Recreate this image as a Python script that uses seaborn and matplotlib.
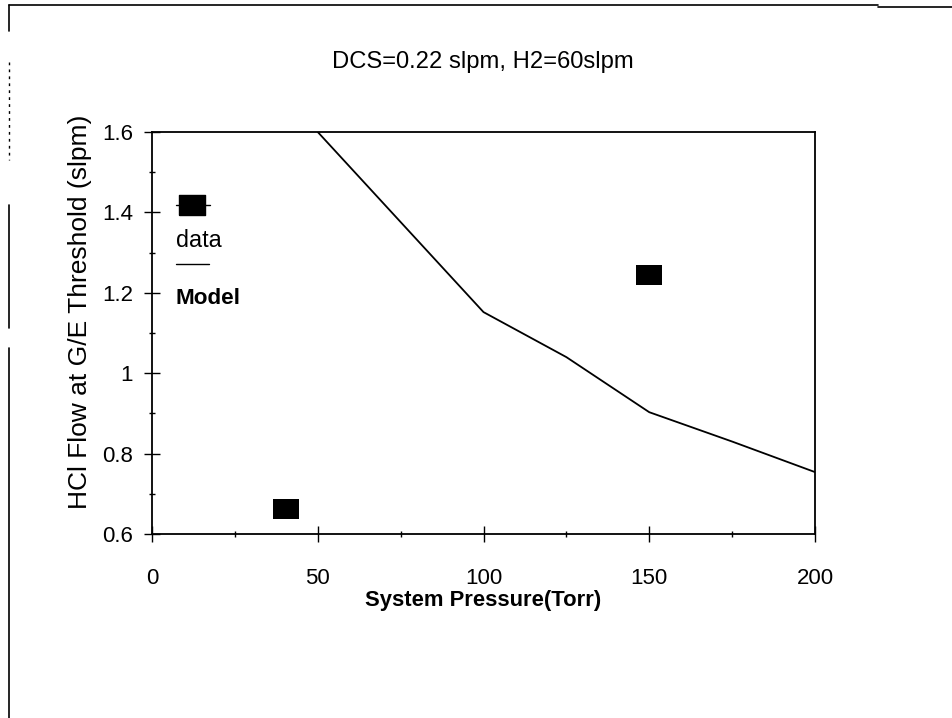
import matplotlib
matplotlib.use("Agg")
import matplotlib.pyplot as plt
import matplotlib.lines as mlines
import seaborn as sns
import pandas as pd
from matplotlib.ticker import FormatStrFormatter, MultipleLocator

# ---- data ----
data_pressure = [40.5, 150]
data_flow = [0.662, 1.244]
model_pressure = [50, 100, 125, 150, 175, 200]
model_flow = [1.6, 1.152, 1.04, 0.903, 0.83, 0.754]
x_ticks = [0, 50, 100, 150, 200]
y_ticks = [0.6, 0.8, 1.0, 1.2, 1.4, 1.6]
title = "DCS=0.22 slpm, H2=60slpm"
xlabel = "System Pressure(Torr)"
ylabel = "HCl Flow at G/E Threshold (slpm)"

df_data = pd.DataFrame({"p": data_pressure, "f": data_flow})
df_model = pd.DataFrame({"p": model_pressure, "f": model_flow})

sns.set_theme(style="white")
plt.rcParams["font.family"] = ["Liberation Sans", "DejaVu Sans"]

fig = plt.figure(figsize=(9.52, 7.18), dpi=100)
ax = fig.add_axes([152 / 952, 1 - 534 / 718, 663 / 952, 402 / 718])

rect = [(-1.3, -1), (1.3, -1), (1.3, 1), (-1.3, 1), (-1.3, -1)]
sns.lineplot(data=df_model, x="p", y="f", ax=ax, color="black", linewidth=1.3)
sns.scatterplot(data=df_data, x="p", y="f", ax=ax, marker=rect, s=19 ** 2,
                color="black", edgecolor="black", linewidth=0, zorder=3)

ax.set_xlim(0, 200)
ax.set_ylim(0.6, 1.6)
ax.set_xticks(x_ticks)
ax.set_yticks(y_ticks)
ax.yaxis.set_major_formatter(FormatStrFormatter("%g"))
ax.xaxis.set_minor_locator(MultipleLocator(25))
ax.yaxis.set_minor_locator(MultipleLocator(0.1))

for s in ax.spines.values():
    s.set_color("black")
    s.set_linewidth(1.3)

ax.tick_params(axis="both", which="major", direction="inout", length=11, width=1,
               color="black", labelsize=16, labelcolor="black")
ax.tick_params(axis="both", which="minor", direction="inout", length=4.5, width=1,
               color="black")
ax.tick_params(axis="x", which="both", top=False, bottom=True, pad=19)
ax.tick_params(axis="y", which="both", right=False, left=True, pad=8)

ax.set_xlabel(xlabel, fontsize=15.8, fontweight="bold", labelpad=1, color="black")
ax.set_ylabel(ylabel, fontsize=19, color="black")
ax.yaxis.set_label_coords(-0.09, 0.552)

fig.text(483 / 952, 1 - 62 / 718, title, ha="center", va="center", fontsize=17.1, color="black")

# ---- legend (custom vertical layout) ----
ax.add_line(mlines.Line2D([0.036, 0.087], [0.818, 0.818], transform=ax.transAxes,
                          color="black", linewidth=1, clip_on=False))
ax.add_line(mlines.Line2D([0.061], [0.818], transform=ax.transAxes, marker=rect,
                          markersize=19, color="black", linestyle="none", clip_on=False))
ax.text(0.036, 0.731, "data", transform=ax.transAxes, ha="left", va="center",
        fontsize=16.8, color="black")
ax.add_line(mlines.Line2D([0.036, 0.086], [0.672, 0.672], transform=ax.transAxes,
                          color="black", linewidth=1, clip_on=False))
ax.text(0.036, 0.587, "Model", transform=ax.transAxes, ha="left", va="center",
        fontsize=16.2, fontweight="bold", color="black")

# ---- page border remnants ----
for (x0, y0, x1, y1) in [(9, 5, 878, 5), (878, 7, 952, 7),
                         (9, 5, 9, 31), (9, 205, 9, 328), (9, 348, 9, 718)]:
    fig.add_artist(mlines.Line2D([x0 / 952, x1 / 952], [1 - y0 / 718, 1 - y1 / 718],
                                 transform=fig.transFigure, color="black", linewidth=1.2))
fig.add_artist(mlines.Line2D([9 / 952, 9 / 952], [1 - 62 / 718, 1 - 160 / 718],
                             transform=fig.transFigure, color="black", linewidth=1,
                             linestyle=(0, (2, 3))))

fig.savefig("out.png", dpi=100, facecolor="white")
